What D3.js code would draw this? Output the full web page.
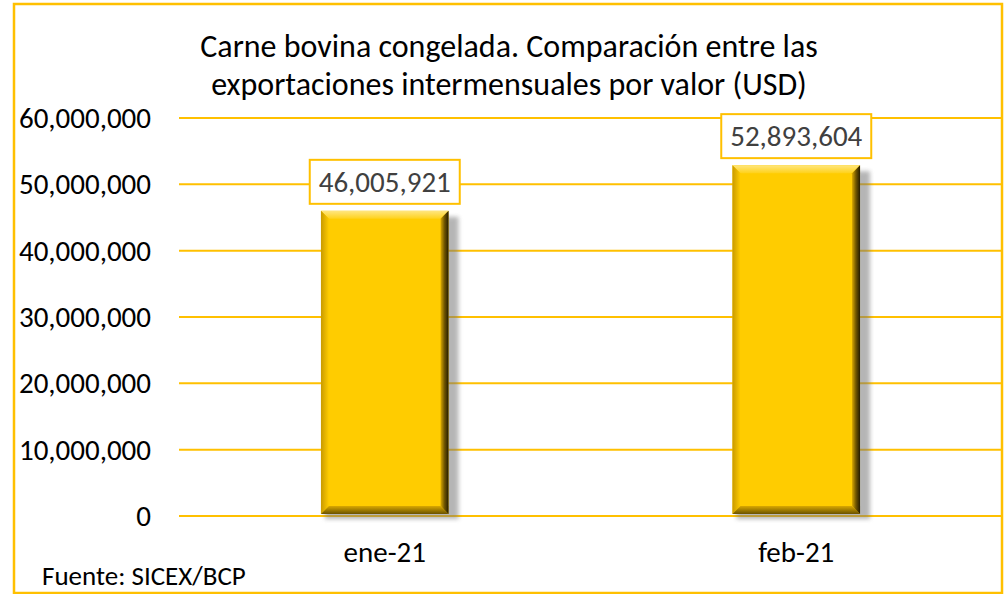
<!DOCTYPE html>
<html>
<head>
<meta charset="utf-8">
<script src="https://cdn.jsdelivr.net/npm/d3@7/dist/d3.min.js"></script>
<style>
  html, body { margin: 0; padding: 0; background: #fff; }
  svg { display: block; font-family: Calibri, Carlito, Lato, "Open Sans", sans-serif; }
</style>
</head>
<body>
<svg id="chart" width="1005" height="594"></svg>
<script>
// Exports of frozen beef, monthly value in USD
const categories = ["ene-21", "feb-21"];
const values = [46005921, 52893604];
const yTicks = [0, 10000000, 20000000, 30000000, 40000000, 50000000, 60000000];
const titleLines = ["Carne bovina congelada. Comparación entre las",
                    "exportaciones intermensuales por valor (USD)"];
const sourceNote = "Fuente: SICEX/BCP";

const gold = "#FFC000";
const barColor = "#FFCC00";
const fmt = d3.format(",");

const svg = d3.select("#chart");
const defs = svg.append("defs");

const plot = { left: 179, right: 1002, top: 118, bottom: 516 };

const x = d3.scaleBand().domain(categories).range([plot.left, plot.right]).paddingInner(0.69).paddingOuter(0.345);
const y = d3.scaleLinear().domain([0, 60000000]).range([plot.bottom, plot.top]);

// outer frame
svg.append("rect").attr("x", 14).attr("y", 4).attr("width", 988).attr("height", 589)
  .attr("fill", "#fff").attr("stroke", gold).attr("stroke-width", 2.5);

// title
svg.append("g").selectAll("text").data(titleLines).join("text")
  .attr("x", 509).attr("y", (d, i) => 57 + i * 38)
  .attr("text-anchor", "middle").attr("font-size", 32).attr("fill", "#000")
  .text(d => d);

// horizontal gridlines
svg.append("g").selectAll("line").data(yTicks).join("line")
  .attr("x1", plot.left).attr("x2", plot.right)
  .attr("y1", d => y(d)).attr("y2", d => y(d))
  .attr("stroke", gold).attr("stroke-width", 2);

// y axis labels
const yAxis = d3.axisLeft(y).tickValues(yTicks).tickFormat(fmt).tickSize(0).tickPadding(0);
const gy = svg.append("g").attr("transform", "translate(151,0)").call(yAxis)
  .attr("font-family", null).attr("font-size", null);
gy.select(".domain").remove();
gy.selectAll("text").attr("font-size", 29).attr("fill", "#000").attr("dy", "0.33em");

// x axis labels
const xAxis = d3.axisBottom(x).tickSize(0).tickPadding(0);
const gx = svg.append("g").attr("transform", "translate(0,562)").call(xAxis)
  .attr("font-family", null).attr("font-size", null);
gx.select(".domain").remove();
gx.selectAll("text").attr("font-size", 29).attr("fill", "#000").attr("dy", 0);

// source note
svg.append("text").attr("x", 42).attr("y", 585).attr("font-size", 27).attr("fill", "#000").text(sourceNote);

// gradients for bevelled bars
function lin(id, x1, y1, x2, y2, stops) {
  const g = defs.append("linearGradient").attr("id", id)
    .attr("x1", x1).attr("y1", y1).attr("x2", x2).attr("y2", y2);
  stops.forEach(s => g.append("stop").attr("offset", s[0]).attr("stop-color", s[1]).attr("stop-opacity", s[2] ?? 1));
}
lin("bevTop", 0, 0, 0, 1, [[0, "#FFE680"], [1, "#FFD21A"]]);
lin("bevLeft", 0, 0, 1, 0, [[0, "#C99A00"], [1, "#FFCC00"]]);
lin("bevRight", 0, 0, 1, 0, [[0, "#D9A800"], [0.5, "#6E5400"], [1, "#241B00"]]);
lin("bevBottom", 0, 0, 0, 1, [[0, "#D9A800"], [1, "#6A5200"]]);
defs.append("filter").attr("id", "shadowBlur").attr("x", "-20%").attr("y", "-5%").attr("width", "140%").attr("height", "110%")
  .append("feGaussianBlur").attr("stdDeviation", 2.2);

const bw = x.bandwidth();
const bev = 8;
const bars = svg.append("g").selectAll("g").data(categories.map((c, i) => ({ c, v: values[i] }))).join("g");

// drop shadow
bars.append("rect")
  .attr("x", d => x(d.c) + 4).attr("y", d => y(d.v) + 6)
  .attr("width", bw + 6).attr("height", d => y(0) - y(d.v) - 3)
  .attr("fill", "#7a7a7a").attr("opacity", 0.55).attr("filter", "url(#shadowBlur)");

// bar body
bars.append("rect")
  .attr("x", d => x(d.c)).attr("y", d => y(d.v))
  .attr("width", bw).attr("height", d => y(0) - y(d.v) - 2)
  .attr("fill", barColor);

// bevel faces
function face(cls, fill, pts) {
  bars.append("polygon").attr("class", cls).attr("fill", fill)
    .attr("points", d => pts(x(d.c), y(d.v), x(d.c) + bw, y(0) - 2).map(p => p.join(",")).join(" "));
}
face("top", "url(#bevTop)", (l, t, r, b) => [[l, t], [r, t], [r - bev, t + bev], [l + bev, t + bev]]);
face("left", "url(#bevLeft)", (l, t, r, b) => [[l, t], [l + bev, t + bev], [l + bev, b - bev], [l, b]]);
face("bottom", "url(#bevBottom)", (l, t, r, b) => [[l, b], [l + bev, b - bev], [r - bev, b - bev], [r, b]]);
face("right", "url(#bevRight)", (l, t, r, b) => [[r, t], [r, b], [r - bev, b - bev], [r - bev, t + bev]]);

// value labels in boxes
const lw = 150, lh = 44;
const labels = svg.append("g").selectAll("g").data(categories.map((c, i) => ({ c, v: values[i] }))).join("g")
  .attr("transform", d => `translate(${x(d.c) + bw / 2},${y(d.v) - 7 - lh / 2})`);
labels.append("rect").attr("x", -lw / 2).attr("y", -lh / 2).attr("width", lw).attr("height", lh)
  .attr("fill", "#fff").attr("stroke", gold).attr("stroke-width", 2);
labels.append("text").attr("text-anchor", "middle").attr("dy", "0.34em")
  .attr("font-size", 29).attr("fill", "#404040").text(d => fmt(d.v));
</script>
</body>
</html>
